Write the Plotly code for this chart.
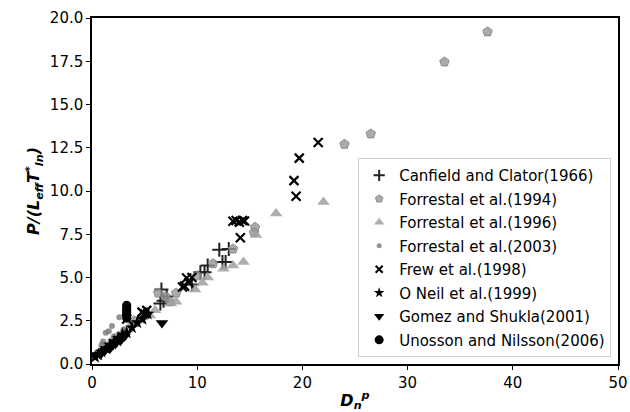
import plotly.graph_objects as go

# ---- data ----
canfield_x = [6.5, 6.8, 7.1, 6.6, 9.5, 10.3, 10.7, 11.0, 12.1, 12.4, 12.7, 13.0]
canfield_y = [3.5, 3.65, 3.9, 4.3, 4.6, 5.3, 5.3, 5.7, 6.6, 5.9, 5.9, 6.65]

f1994_x = [4.0, 5.0, 6.3, 7.0, 7.4, 8.0, 10.0, 11.5, 13.4, 15.5, 15.4, 24.0, 26.5, 33.5, 37.6]
f1994_y = [2.5, 2.8, 4.1, 3.9, 3.6, 4.1, 5.1, 5.8, 6.65, 7.9, 7.6, 12.7, 13.3, 17.46, 19.2]

f1996_x = [1.8, 2.5, 3.0, 3.5, 4.0, 4.5, 5.5, 6.0, 7.5, 8.0, 9.8, 10.5, 11.0, 12.5, 13.4, 14.4, 15.6, 17.5, 22.0]
f1996_y = [1.3, 1.6, 1.9, 2.1, 2.3, 2.5, 2.8, 3.1, 3.5, 3.6, 4.3, 4.7, 5.0, 5.5, 5.7, 5.9, 7.45, 8.7, 9.36]

f2003_x = [0.6, 0.9, 1.05, 1.3, 1.6, 1.9, 2.1, 2.6, 3.0, 3.9, 4.5, 5.0]
f2003_y = [0.7, 1.1, 1.3, 1.8, 1.9, 2.2, 1.6, 2.7, 2.0, 2.3, 2.6, 2.9]

frew_x = [3.3, 4.75, 5.0, 5.2, 8.6, 8.8, 9.0, 9.2, 9.5, 13.4, 13.7, 14.0, 14.3, 14.5, 14.1, 19.2, 19.4, 19.7, 21.5]
frew_y = [2.6, 3.0, 2.9, 3.1, 4.45, 4.5, 4.97, 4.7, 5.0, 8.25, 8.3, 8.2, 8.3, 8.27, 7.3, 10.6, 9.7, 11.9, 12.8]

oneil_x = [0.3, 0.6, 0.9, 1.3, 1.7, 2.1, 2.5, 2.9, 3.3, 3.8, 4.3, 4.8, 5.3]
oneil_y = [0.4, 0.55, 0.7, 0.9, 1.1, 1.3, 1.5, 1.7, 1.8, 2.1, 2.4, 2.6, 2.9]

gomez_x = [0.4, 0.8, 1.2, 1.7, 2.2, 2.7, 3.1, 6.65]
gomez_y = [0.5, 0.55, 0.75, 0.9, 1.15, 1.35, 1.6, 2.37]

unosson_x = [3.3, 3.3, 3.3, 3.3, 3.3, 3.3, 3.3, 3.3]
unosson_y = [3.4, 3.3, 3.2, 3.1, 3.0, 2.9, 2.8, 2.65]

y_ticks = [0, 2.5, 5, 7.5, 10, 12.5, 15, 17.5, 20]
x_ticks = [0, 10, 20, 30, 40, 50]

FONT = "DejaVu Sans"

series = [
    ("Canfield and Clator(1966)", canfield_x, canfield_y,
     dict(symbol="cross-thin", size=10, line=dict(width=2, color="#222222"), color="#222222")),
    ("Forrestal et al.(1994)", f1994_x, f1994_y,
     dict(symbol="pentagon", size=10, color="rgba(150,150,150,0.8)", line=dict(width=1, color="rgba(128,128,128,0.8)"))),
    ("Forrestal et al.(1996)", f1996_x, f1996_y,
     dict(symbol="triangle-up", size=11, color="rgba(160,160,160,0.85)", line=dict(width=0))),
    ("Forrestal et al.(2003)", f2003_x, f2003_y,
     dict(symbol="circle", size=6, color="rgba(120,120,120,0.8)", line=dict(width=0))),
    ("Frew et al.(1998)", frew_x, frew_y,
     dict(symbol="x-thin", size=9, line=dict(width=2.2, color="black"), color="black")),
    ("O Neil et al.(1999)", oneil_x, oneil_y,
     dict(symbol="star", size=10, color="black", line=dict(width=0))),
    ("Gomez and Shukla(2001)", gomez_x, gomez_y,
     dict(symbol="triangle-down", size=11, color="black", line=dict(width=0))),
    ("Unosson and Nilsson(2006)", unosson_x, unosson_y,
     dict(symbol="circle", size=9, color="black", line=dict(width=0))),
]

# smaller markers shown in the legend (like matplotlib's legend markers)
legend_markers = [
    dict(symbol="cross-thin", size=8, line=dict(width=2, color="#222222"), color="#222222"),
    dict(symbol="pentagon", size=8, color="rgba(150,150,150,0.8)", line=dict(width=1, color="rgba(128,128,128,0.8)")),
    dict(symbol="triangle-up", size=9, color="rgba(160,160,160,0.85)", line=dict(width=0)),
    dict(symbol="circle", size=5, color="rgba(120,120,120,0.8)", line=dict(width=0)),
    dict(symbol="x-thin", size=7, line=dict(width=2, color="black"), color="black"),
    dict(symbol="star", size=8, color="black", line=dict(width=0)),
    dict(symbol="triangle-down", size=9, color="black", line=dict(width=0)),
    dict(symbol="circle", size=9, color="black", line=dict(width=0)),
]

fig = go.Figure()
for i, (name, xs, ys, mk) in enumerate(series):
    fig.add_trace(go.Scatter(x=xs, y=ys, mode="markers", name=name, marker=mk,
                             legendgroup=f"g{i}", showlegend=False))
for i, (name, xs, ys, mk) in enumerate(series):
    fig.add_trace(go.Scatter(x=[None], y=[None], mode="markers", name=name,
                             marker=legend_markers[i], legendgroup=f"g{i}", showlegend=True))

fig.update_layout(
    width=630, height=412,
    margin=dict(l=92, r=12, t=18, b=48, autoexpand=False),
    paper_bgcolor="white", plot_bgcolor="white",
    font=dict(family=FONT, size=15, color="black"),
    showlegend=True,
    legend=dict(x=0.987, y=0.02, xanchor="right", yanchor="bottom",
                bordercolor="#d0d0d0", borderwidth=1, bgcolor="rgba(255,255,255,0.8)",
                font=dict(family=FONT, size=15), tracegroupgap=1,
                itemsizing="trace"),
    xaxis=dict(range=[0, 50], tickvals=x_ticks, ticktext=[str(v) for v in x_ticks],
               showgrid=False, zeroline=False, showline=True, linecolor="black", linewidth=1.5,
               mirror=True, ticks="outside", ticklen=4, tickwidth=1.2, tickcolor="black",
               tickfont=dict(size=15), automargin=False,
               title=dict(text="<b><i>D<sub>n</sub><sup>p</sup></i></b>", font=dict(size=16), standoff=4)),
    yaxis=dict(range=[0, 20], tickvals=y_ticks, ticktext=[f"{v:.1f}" for v in y_ticks],
               showgrid=False, zeroline=False, showline=True, linecolor="black", linewidth=1.5,
               mirror=True, ticks="outside", ticklen=4, tickwidth=1.2, tickcolor="black",
               tickfont=dict(size=15), automargin=False,
               title=dict(text="<b><i>P/(L<sub>eff</sub>T<sup>*</sup><sub>ln</sub>)</i></b>", font=dict(size=16), standoff=6)),
)

fig.write_html("out.html")
